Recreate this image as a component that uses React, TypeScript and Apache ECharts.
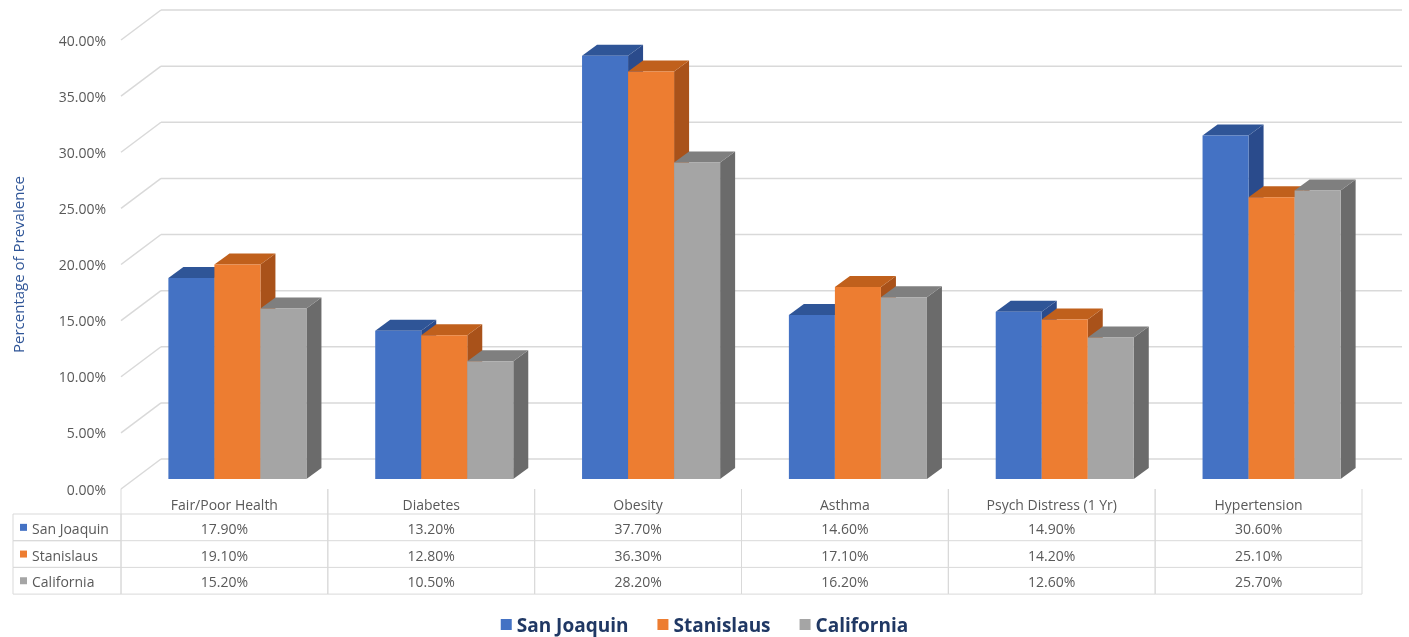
import { useEffect, useRef } from 'react';
import * as echarts from 'echarts';

// Health indicator prevalence (%) by region
const categories = ['Fair/Poor Health', 'Diabetes', 'Obesity', 'Asthma', 'Psych Distress (1 Yr)', 'Hypertension'];
const seriesNames = ['San Joaquin', 'Stanislaus', 'California'];
const sanJoaquin = [17.9, 13.2, 37.7, 14.6, 14.9, 30.6];
const stanislaus = [19.1, 12.8, 36.3, 17.1, 14.2, 25.1];
const california = [15.2, 10.5, 28.2, 16.2, 12.6, 25.7];
const yTicks = [0, 5, 10, 15, 20, 25, 30, 35, 40];

const seriesValues = [sanJoaquin, stanislaus, california];

// face colours: front, top, right side
const frontColors = ['#4472C4', '#ED7D31', '#A5A5A5'];
const topColors = ['#2F5597', '#C0601C', '#7F7F7F'];
const sideColors = ['#2A4B8C', '#A9521A', '#6B6B6B'];

// oblique projection offsets
const WALL_DX = 40;
const WALL_DY = -30;
const BAR_DX = 13;
const BAR_DY = -10;
const DEPTH_DX = 15;
const DEPTH_DY = -11;
const BAR_FRAC = 0.2225;

// data table layout
const TABLE_TOP = 489;
const HEADER_H = 25;
const ROW_H = 26.7;
const ROW_LABEL_LEFT = 13;
const GRID_COLOR = '#D9D9D9';
const TEXT_COLOR = '#595959';
const FONT = '"Open Sans", sans-serif';
const TEXT_SIZE = 14;

const fmt = (v: number) => v.toFixed(2) + '%';

export default function App() {
  const ref = useRef<HTMLDivElement>(null);

  useEffect(() => {
    if (!ref.current) return;
    const chart = echarts.init(ref.current, undefined, { renderer: 'svg' });

    const wallSeries = {
      type: 'custom',
      name: 'walls',
      silent: true,
      z: 1,
      data: yTicks.map((t) => [0, t]),
      encode: { x: 0, y: 1 },
      renderItem: (params: any, api: any) => {
        const cs = params.coordSys;
        const y = api.coord([0, api.value(1)])[1];
        const style = { stroke: GRID_COLOR, lineWidth: 1.5 };
        return {
          type: 'group',
          children: [
            { type: 'line', shape: { x1: cs.x, y1: y, x2: cs.x + WALL_DX, y2: y + WALL_DY }, style },
            {
              type: 'line',
              shape: { x1: cs.x + WALL_DX, y1: y + WALL_DY, x2: cs.x + cs.width + WALL_DX, y2: y + WALL_DY },
              style,
            },
          ],
        };
      },
    };

    const barSeries = seriesNames.map((name, k) => ({
      type: 'custom',
      name,
      z: 2,
      itemStyle: { color: frontColors[k] },
      data: seriesValues[k].map((v, i) => [i, v]),
      encode: { x: 0, y: 1 },
      renderItem: (params: any, api: any) => {
        const i = api.value(0);
        const v = api.value(1);
        const base = api.coord([i, 0]);
        const top = api.coord([i, v]);
        const bw = api.size([1, 0])[0] * BAR_FRAC;
        const x0 = base[0] + BAR_DX + (k - 1.5) * bw;
        const x1 = x0 + bw;
        const yb = base[1] + BAR_DY;
        const yt = top[1] + BAR_DY;
        return {
          type: 'group',
          children: [
            {
              type: 'polygon',
              shape: {
                points: [
                  [x1, yt],
                  [x1 + DEPTH_DX, yt + DEPTH_DY],
                  [x1 + DEPTH_DX, yb + DEPTH_DY],
                  [x1, yb],
                ],
              },
              style: { fill: sideColors[k] },
            },
            {
              type: 'polygon',
              shape: {
                points: [
                  [x0, yt],
                  [x1, yt],
                  [x1 + DEPTH_DX, yt + DEPTH_DY],
                  [x0 + DEPTH_DX, yt + DEPTH_DY],
                ],
              },
              style: { fill: topColors[k] },
            },
            { type: 'rect', shape: { x: x0, y: yt, width: bw, height: yb - yt }, style: { fill: frontColors[k] } },
          ],
        };
      },
    }));

    // one column of the data table per category
    const tableSeries = {
      type: 'custom',
      name: 'table',
      silent: true,
      z: 3,
      data: categories.map((_, i) => [i, 0]),
      encode: { x: 0, y: 1 },
      renderItem: (params: any, api: any) => {
        const i = api.value(0);
        const band = api.size([1, 0])[0];
        const cx = api.coord([i, 0])[0];
        const left = cx - band / 2;
        const rowsTop = TABLE_TOP + HEADER_H;
        const bottom = rowsTop + ROW_H * seriesNames.length;
        const lineStyle = { stroke: GRID_COLOR, lineWidth: 1 };
        const textStyle = (text: string, y: number) => ({
          type: 'text',
          style: {
            text,
            x: cx,
            y,
            align: 'center',
            verticalAlign: 'middle',
            fill: TEXT_COLOR,
            fontSize: TEXT_SIZE,
            fontFamily: FONT,
          },
        });
        const children: any[] = [
          { type: 'line', shape: { x1: left, y1: TABLE_TOP, x2: left, y2: bottom }, style: lineStyle },
          { type: 'line', shape: { x1: left + band, y1: TABLE_TOP, x2: left + band, y2: bottom }, style: lineStyle },
          textStyle(categories[i], TABLE_TOP + HEADER_H / 2 + 3),
        ];
        seriesValues.forEach((vals, k) => {
          const y = rowsTop + ROW_H * k;
          children.push({ type: 'line', shape: { x1: left, y1: y, x2: left + band, y2: y }, style: lineStyle });
          children.push(textStyle(fmt(vals[i]), y + ROW_H / 2 + 1));
        });
        children.push({ type: 'line', shape: { x1: left, y1: bottom, x2: left + band, y2: bottom }, style: lineStyle });
        return { type: 'group', children };
      },
    };

    // row headers of the data table with series keys
    const rowLabelSeries = {
      type: 'custom',
      name: 'rowLabels',
      silent: true,
      z: 3,
      data: seriesNames.map((_, k) => [0, k]),
      encode: { x: 0 },
      renderItem: (params: any, api: any) => {
        const cs = params.coordSys;
        const k = api.value(1);
        const y = TABLE_TOP + HEADER_H + ROW_H * k;
        return {
          type: 'group',
          children: [
            {
              type: 'rect',
              shape: { x: ROW_LABEL_LEFT, y, width: cs.x - ROW_LABEL_LEFT, height: ROW_H },
              style: { fill: 'none', stroke: GRID_COLOR, lineWidth: 1 },
            },
            {
              type: 'rect',
              shape: { x: ROW_LABEL_LEFT + 7, y: y + ROW_H / 2 - 3.5, width: 7, height: 7 },
              style: { fill: frontColors[k] },
            },
            {
              type: 'text',
              style: {
                text: seriesNames[k],
                x: ROW_LABEL_LEFT + 19,
                y: y + ROW_H / 2 + 1,
                align: 'left',
                verticalAlign: 'middle',
                fill: TEXT_COLOR,
                fontSize: TEXT_SIZE,
                fontFamily: FONT,
              },
            },
          ],
        };
      },
    };

    chart.setOption({
      animation: false,
      color: frontColors,
      grid: { left: 121, right: 47, top: 40, bottom: 148 },
      xAxis: {
        type: 'category',
        data: categories,
        show: false,
      },
      yAxis: {
        type: 'value',
        min: 0,
        max: 40,
        interval: 5,
        name: 'Percentage of Prevalence',
        nameLocation: 'middle',
        nameGap: 96,
        nameTextStyle: { color: '#2F5597', fontSize: 15, fontFamily: FONT },
        axisLine: { show: false },
        axisTick: { show: false },
        splitLine: { show: false },
        axisLabel: {
          formatter: (v: number) => fmt(v),
          color: TEXT_COLOR,
          fontSize: TEXT_SIZE,
          fontFamily: FONT,
          margin: 15,
        },
      },
      legend: {
        data: seriesNames,
        top: 610,
        left: 'center',
        icon: 'rect',
        itemWidth: 11,
        itemHeight: 11,
        itemGap: 29,
        textStyle: { fontSize: 19, fontWeight: 'bold', color: '#203864', fontFamily: FONT },
      },
      series: [wallSeries, ...barSeries, tableSeries, rowLabelSeries],
    });

    return () => chart.dispose();
  }, []);

  return <div ref={ref} style={{ position: 'fixed', left: 0, top: 0, width: 1409, height: 637 }} />;
}
